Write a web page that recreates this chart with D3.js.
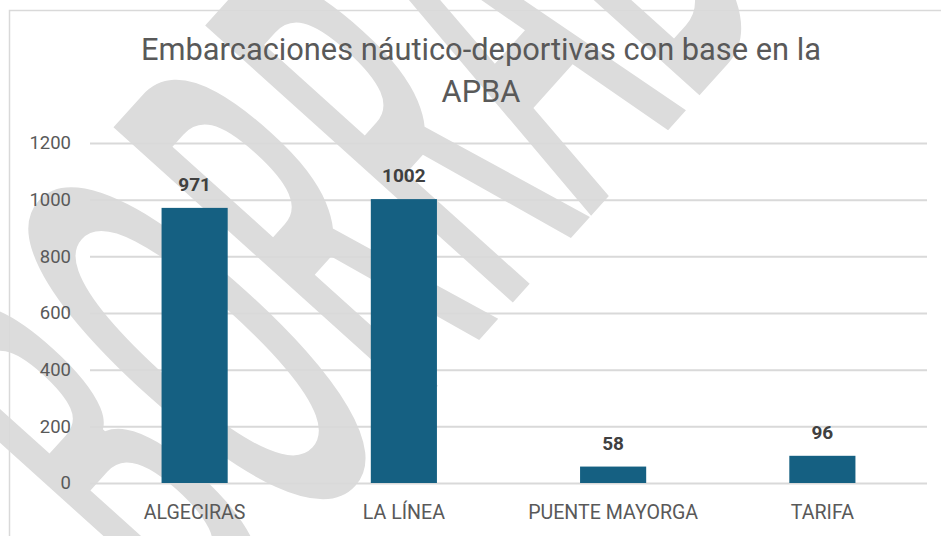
<!DOCTYPE html>
<html>
<head>
<meta charset="utf-8">
<script src="https://cdn.jsdelivr.net/npm/d3@7"></script>
<style>
  body { margin: 0; background: #fff; }
  svg { display: block; }
</style>
</head>
<body>
<svg id="chart" width="941" height="536"></svg>
<script>
const categories = ["ALGECIRAS", "LA LÍNEA", "PUENTE MAYORGA", "TARIFA"];
const values = [971, 1002, 58, 96];
const yTicks = [0, 200, 400, 600, 800, 1000, 1200];
const titleLines = ["Embarcaciones náutico-deportivas con base en la", "APBA"];
const watermark = "BORRADOR";

const svg = d3.select("#chart");
const W = 941, H = 536;
const font = "Roboto, 'Open Sans', sans-serif";

// plot area
const plotL = 90, plotR = 927, plotT = 143, plotB = 483;

const x = d3.scaleBand()
  .domain(categories)
  .range([plotL, plotR])
  .paddingInner(0.684)
  .paddingOuter(0.342);

const y = d3.scaleLinear()
  .domain([0, 1200])
  .range([plotB, plotT]);

// draft watermark, sits behind the chart
svg.append("text")
  .attr("transform", "translate(200,650) rotate(-48) scale(0.37,1)")
  .attr("text-anchor", "start")
  .attr("font-family", "'Open Sans', sans-serif")
  .attr("font-weight", 600)
  .attr("font-size", 580)
  .attr("fill", "#dcdcdc")
  .text(watermark);

// chart border
svg.append("rect")
  .attr("x", 9.5).attr("y", 10.5)
  .attr("width", W).attr("height", H)
  .attr("fill", "none")
  .attr("stroke", "#d9d9d9")
  .attr("stroke-width", 1.5);

// title
svg.append("g").selectAll("text")
  .data(titleLines)
  .enter().append("text")
  .attr("x", 481)
  .attr("y", (d, i) => 60 + i * 42)
  .attr("text-anchor", "middle")
  .attr("font-family", font)
  .attr("font-size", 30.8)
  .attr("fill", "#595959")
  .text(d => d);

// gridlines + y labels
const yAxis = d3.axisLeft(y)
  .tickValues(yTicks)
  .tickFormat(d3.format("d"))
  .tickSize(-(plotR - plotL))
  .tickPadding(19);

const gy = svg.append("g")
  .attr("transform", `translate(${plotL},0)`)
  .call(yAxis);
gy.select(".domain").remove();
gy.selectAll(".tick line")
  .attr("stroke", "#d9d9d9")
  .attr("stroke-width", 2);
gy.selectAll(".tick text")
  .attr("font-family", font)
  .attr("font-size", 18.5)
  .attr("fill", "#595959");

// bars
svg.append("g").selectAll("rect")
  .data(values)
  .enter().append("rect")
  .attr("x", (d, i) => x(categories[i]))
  .attr("y", d => y(d))
  .attr("width", x.bandwidth())
  .attr("height", d => y(0) - y(d))
  .attr("fill", "#156082");

// data labels
svg.append("g").selectAll("text")
  .data(values)
  .enter().append("text")
  .attr("x", (d, i) => x(categories[i]) + x.bandwidth() / 2)
  .attr("y", d => y(d) - 17)
  .attr("text-anchor", "middle")
  .attr("font-family", font)
  .attr("font-size", 19)
  .attr("font-weight", "bold")
  .attr("fill", "#404040")
  .text(d => d);

// x labels
const xAxis = d3.axisBottom(x).tickSize(0).tickPadding(22);
const gx = svg.append("g")
  .attr("transform", `translate(0,${plotB})`)
  .call(xAxis);
gx.select(".domain").remove();
gx.selectAll(".tick text")
  .attr("font-family", font)
  .attr("font-size", 19.6)
  .attr("fill", "#595959");
</script>
</body>
</html>
